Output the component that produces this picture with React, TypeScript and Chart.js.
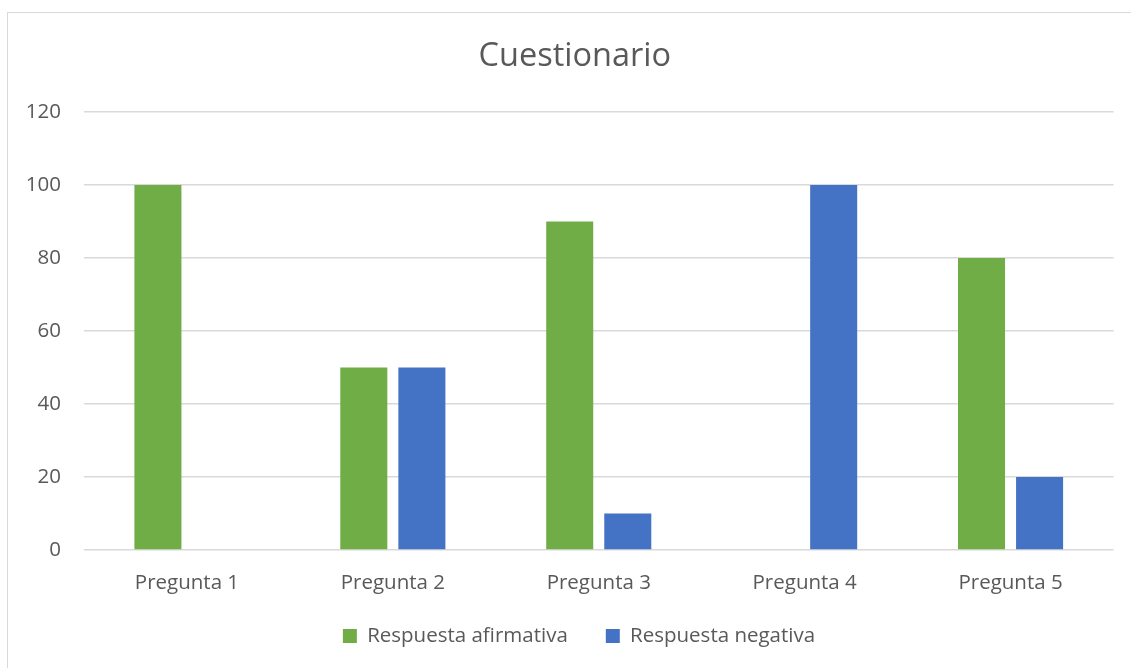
import React, { useEffect, useRef } from "react";
import { Chart, registerables } from "chart.js";

Chart.register(...registerables);

const categories = ["Pregunta 1", "Pregunta 2", "Pregunta 3", "Pregunta 4", "Pregunta 5"];
const afirmativa = [100, 50, 90, 0, 80];
const negativa = [0, 50, 10, 100, 20];
const yMin = 0;
const yMax = 120;
const yStep = 20;

const FONT = "'Open Sans', 'Noto Sans', sans-serif";
const TEXT = "#595959";
const FS = 20.5;

const shiftPlugin = {
  id: "shiftBlocks",
  afterLayout(chart: any) {
    const lg = chart.legend;
    if (lg) {
      lg.left += 22.25;
      lg.right += 22.25;
      lg.top -= 7.35;
      lg.bottom -= 7.35;
    }
    const tb = chart.titleBlock;
    if (tb) {
      tb.left += 18;
      tb.right += 18;
    }
  },
};

export default function App() {
  const ref = useRef<HTMLCanvasElement | null>(null);

  useEffect(() => {
    if (!ref.current) return;
    const chart = new Chart(ref.current, {
      type: "bar",
      data: {
        labels: categories,
        datasets: [
          {
            label: "Respuesta afirmativa",
            data: afirmativa,
            backgroundColor: "#70AD47",
            borderWidth: 0,
            categoryPercentage: 0.564,
            barPercentage: 0.81,
          },
          {
            label: "Respuesta negativa",
            data: negativa,
            backgroundColor: "#4472C4",
            borderWidth: 0,
            categoryPercentage: 0.564,
            barPercentage: 0.81,
          },
        ],
      },
      options: {
        responsive: false,
        animation: false,
        maintainAspectRatio: false,
        layout: { padding: { left: 0, right: 17.5, top: 0, bottom: 4.4 } },
        plugins: {
          title: {
            display: true,
            text: "Cuestionario",
            color: TEXT,
            font: { family: FONT, size: 32.5, weight: "normal" },
            padding: { top: 37.5, bottom: 35.5 },
          },
          legend: {
            position: "bottom",
            labels: {
              color: TEXT,
              font: { family: FONT, size: FS },
              boxWidth: 14,
              boxHeight: 14,
              padding: 38,
            },
          },
          tooltip: { enabled: false },
        },
        scales: {
          x: {
            grid: { display: false, drawTicks: false },
            border: { display: false },
            ticks: { color: TEXT, font: { family: FONT, size: FS }, padding: 20.5 },
            afterFit: (s: any) => {
              s.height = 45.1;
            },
          },
          y: {
            min: yMin,
            max: yMax,
            ticks: {
              stepSize: yStep,
              color: TEXT,
              font: { family: FONT, size: FS },
              padding: 23,
            },
            grid: { color: "#d9d9d9", lineWidth: 1.5, drawTicks: false },
            border: { display: false },
            afterFit: (s: any) => {
              s.width = 84;
            },
          },
        },
      },
      plugins: [shiftPlugin],
    });
    return () => chart.destroy();
  }, []);

  return (
    <div style={{ position: "fixed", left: 0, top: 0, width: 1131, height: 668, background: "#fff", overflow: "hidden" }}>
      <div
        style={{
          position: "absolute",
          left: 7,
          top: 12,
          width: 1140,
          height: 680,
          border: "1.5px solid #d9d9d9",
          boxSizing: "border-box",
        }}
      />
      <canvas ref={ref} width={1131} height={668} style={{ position: "absolute", left: 0, top: 0 }} />
    </div>
  );
}
